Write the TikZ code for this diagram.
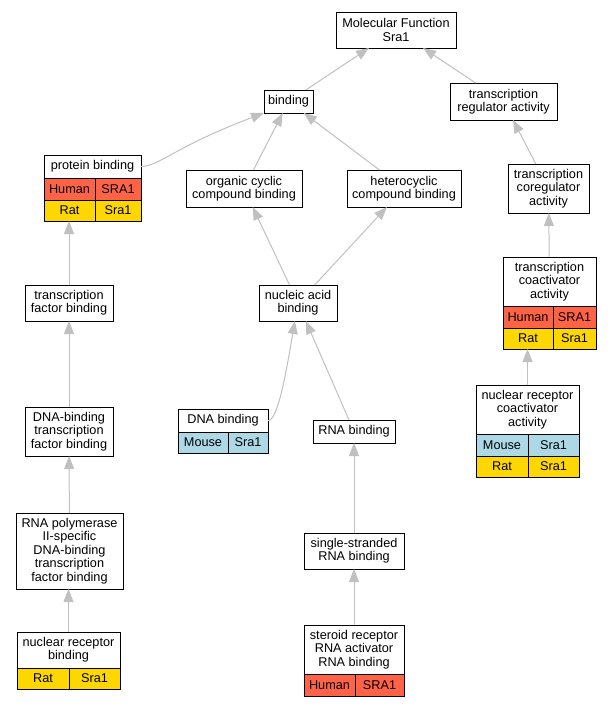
\documentclass[tikz,border=0pt]{standalone}
\usepackage{fontspec}
\setmainfont{Liberation Sans}
\usepackage{tikz}
\usepackage{xcolor}
\usetikzlibrary{
    arrows.meta,
    calc,
    positioning
}
\definecolor{humanred}{RGB}{255,99,71}
\definecolor{ratgold}{RGB}{255,215,0}
\definecolor{mouseblue}{RGB}{173,216,230}
\definecolor{edgegray}{RGB}{192,192,192}
\newcommand{\termfont}{\fontsize{12.7pt}{13.4pt}\selectfont}
\tikzset{term/.style={draw=black, line width=1pt, fill=white, inner sep=0pt, outer sep=0pt, align=center, font=\termfont}}
\tikzset{cell/.style={term, anchor=north west, minimum height=22pt}}
\tikzset{isa/.style={draw=edgegray, line width=1pt, -{Triangle[length=13pt, width=10pt]}}}

\begin{document}
\begin{tikzpicture}[x=1pt, y=-1pt]
                        \useasboundingbox (0,0) rectangle (612,707);
                        \node[term, minimum width=120pt, minimum height=36pt] (mf) at (396, 30) {Molecular Function\\Sra1};
                        \node[term, minimum width=49pt, minimum height=23pt] (bind) at (288.5, 101.5) {binding};
                        \node[term, minimum width=107pt, minimum height=37pt] (tra) at (503.5, 101.5) {transcription\\regulator activity};
                        \node[term, minimum width=97pt, minimum height=23pt] (prot) at (92.5, 166.5) {protein binding};
                        \node[term, minimum width=116pt, minimum height=37pt] (org) at (244, 188.5) {organic cyclic\\compound binding};
                        \node[term, minimum width=114pt, minimum height=37pt] (het) at (404, 188.5) {heterocyclic\\compound binding};
                        \node[term, minimum width=81pt, minimum height=49pt] (coreg) at (548.5, 188.5) {transcription\\coregulator\\activity};
                        \node[term, minimum width=88pt, minimum height=36pt] (tfb) at (69, 303) {transcription\\factor binding};
                        \node[term, minimum width=78pt, minimum height=36pt] (nab) at (298, 303) {nucleic acid\\binding};
                        \node[term, minimum width=93pt, minimum height=49pt] (coact) at (549.5, 281.5) {transcription\\coactivator\\activity};
                        \node[term, minimum width=88pt, minimum height=49pt] (dtfb) at (69, 431.5) {DNA-binding\\transcription\\factor binding};
                        \node[term, minimum width=90pt, minimum height=23pt] (dnab) at (223, 420.5) {DNA binding};
                        \node[term, minimum width=82pt, minimum height=23pt] (rnab) at (354, 431.5) {RNA binding};
                        \node[term, minimum width=103pt, minimum height=49pt] (nrca) at (527.5, 409.5) {nuclear receptor\\coactivator\\activity};
                        \node[term, minimum width=107pt, minimum height=76pt] (rpol) at (69.5, 551) {RNA polymerase\\II-specific\\DNA-binding\\transcription\\factor binding};
                        \node[term, minimum width=100pt, minimum height=36pt] (ssrb) at (354, 551) {single-stranded\\RNA binding};
                        \node[term, minimum width=103pt, minimum height=36pt] (nrb) at (68.5, 650) {nuclear receptor\\binding};
                        \node[term, minimum width=100pt, minimum height=49pt] (srab) at (354, 649.5) {steroid receptor\\RNA activator\\RNA binding};

                        \node[cell, fill=humanred, minimum width=51pt] (prot-h) at (prot.south west) {Human};
                        \node[cell, fill=humanred, minimum width=46pt] (prot-hs) at (prot-h.north east) {SRA1};
                        \node[cell, fill=ratgold, minimum width=51pt, minimum height=21pt] (prot-r) at (prot-h.south west) {Rat};
                        \node[cell, fill=ratgold, minimum width=46pt, minimum height=21pt] (prot-rs) at (prot-r.north east) {Sra1};
                        \node[cell, fill=humanred, minimum width=50pt] (coact-h) at (coact.south west) {Human};
                        \node[cell, fill=humanred, minimum width=43pt] (coact-hs) at (coact-h.north east) {SRA1};
                        \node[cell, fill=ratgold, minimum width=50pt, minimum height=21pt] (coact-r) at (coact-h.south west) {Rat};
                        \node[cell, fill=ratgold, minimum width=43pt, minimum height=21pt] (coact-rs) at (coact-r.north east) {Sra1};
                        \node[cell, fill=mouseblue, minimum width=50pt, minimum height=21pt] (dnab-m) at (dnab.south west) {Mouse};
                        \node[cell, fill=mouseblue, minimum width=40pt, minimum height=21pt] (dnab-ms) at (dnab-m.north east) {Sra1};
                        \node[cell, fill=mouseblue, minimum width=52pt] (nrca-m) at (nrca.south west) {Mouse};
                        \node[cell, fill=mouseblue, minimum width=51pt] (nrca-ms) at (nrca-m.north east) {Sra1};
                        \node[cell, fill=ratgold, minimum width=52pt, minimum height=21pt] (nrca-r) at (nrca-m.south west) {Rat};
                        \node[cell, fill=ratgold, minimum width=51pt, minimum height=21pt] (nrca-rs) at (nrca-r.north east) {Sra1};
                        \node[cell, fill=ratgold, minimum width=52pt, minimum height=21pt] (nrb-r) at (nrb.south west) {Rat};
                        \node[cell, fill=ratgold, minimum width=51pt, minimum height=21pt] (nrb-rs) at (nrb-r.north east) {Sra1};
                        \node[cell, fill=humanred, minimum width=51pt] (srab-h) at (srab.south west) {Human};
                        \node[cell, fill=humanred, minimum width=49pt] (srab-hs) at (srab-h.north east) {SRA1};

                        \draw[isa] (bind) -- (mf);
                        \draw[isa] (tra) -- (mf);
                        \draw[isa] (org) -- (bind);
                        \draw[isa] (het) -- (bind);
                        \draw[isa] (prot.east) .. controls +(18,0) and +(-90,34) .. (bind.south west);
                        \draw[isa] (coreg) -- (tra);
                        \draw[isa] (nab) -- (org);
                        \draw[isa] (nab) -- (het);
                        \draw[isa] (tfb) -- (tfb |- prot-r.south);
                        \draw[isa] (coact) -- (coreg);
                        \draw[isa] (dtfb) -- (tfb);
                        \draw[isa] (dnab.east) .. controls +(10,0) and +(-12,70) .. (nab);
                        \draw[isa] (rnab) -- (nab);
                        \draw[isa] (nrca) -- (nrca |- coact-r.south);
                        \draw[isa] (rpol) -- (dtfb);
                        \draw[isa] (ssrb) -- (rnab);
                        \draw[isa] (nrb) -- (nrb |- rpol.south);
                        \draw[isa] (srab) -- (ssrb);
                    \end{tikzpicture}
\end{document}
